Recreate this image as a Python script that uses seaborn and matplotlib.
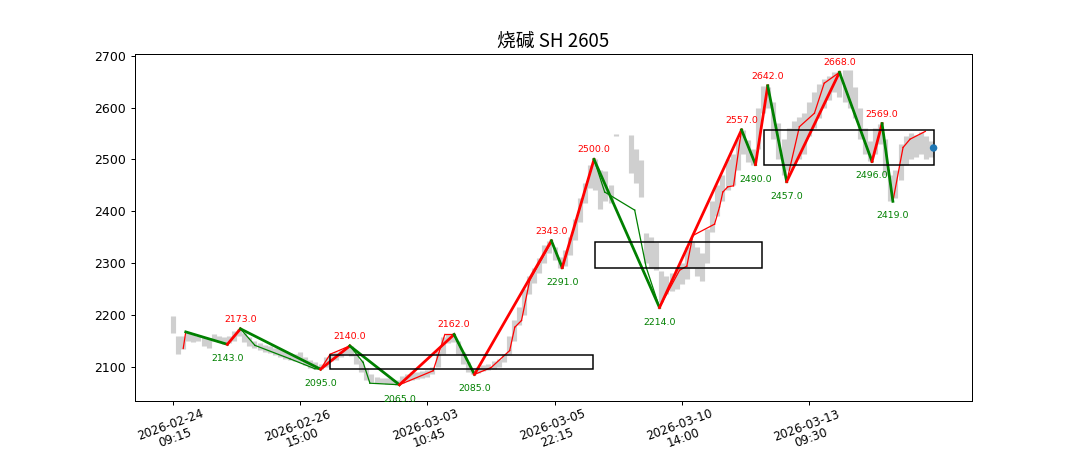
import numpy as np
import pandas as pd
import matplotlib
matplotlib.use('Agg')
import matplotlib.pyplot as plt
import seaborn as sns
from matplotlib.patches import Rectangle

title = '烧碱 SH 2605'

# price bars (every 4th bar): low / high
bar_idx = list(range(0, 600, 4))
bar_low = [
    2165, 2125, 2134, 2150, 2148, 2150, 2140, 2135, 2150, 2148,
    2143, 2145, 2150, 2160, 2148, 2140, 2135, 2132, 2128, 2126,
    2122, 2118, 2115, 2112, 2110, 2108, 2104, 2098, 2095, 2095,
    2100, 2110, 2112, 2118, 2125, 2120, 2105, 2090, 2075, 2070,
    2068, 2068, 2066, 2066, 2065, 2068, 2072, 2074, 2076, 2078,
    2080, 2086, 2100, 2125, 2145, 2148, 2125, 2105, 2090, 2085,
    2088, 2092, 2094, 2096, 2100, 2108, 2125, 2150, 2180, 2200,
    2240, 2262, 2280, 2300, 2320, 2305, 2291, 2295, 2315, 2345,
    2380, 2415, 2445, 2440, 2405, 2420, 2415, 2545, 2547, 2547,
    2473, 2455, 2427, 2300, 2290, 2286, 2225, 2240, 2245, 2250,
    2260, 2270, 2290, 2275, 2266, 2300, 2360, 2390, 2420, 2440,
    2450, 2480, 2510, 2495, 2490, 2520, 2590, 2600, 2540, 2500,
    2470, 2480, 2490, 2500, 2510, 2545, 2560, 2580, 2600, 2615,
    2630, 2620, 2610, 2600, 2580, 2540, 2510, 2496, 2510, 2530,
    2470, 2419, 2425, 2460, 2490, 2500, 2505, 2510, 2500, 2505,
]
bar_high = [
    2197, 2160, 2160, 2166, 2162, 2160, 2158, 2155, 2162, 2160,
    2158, 2160, 2168, 2173, 2165, 2158, 2150, 2146, 2142, 2140,
    2136, 2134, 2130, 2126, 2124, 2128, 2118, 2112, 2108, 2105,
    2118, 2125, 2128, 2132, 2138, 2140, 2125, 2112, 2098, 2085,
    2080, 2078, 2078, 2076, 2074, 2082, 2086, 2090, 2090, 2092,
    2094, 2100, 2130, 2158, 2162, 2162, 2150, 2128, 2108, 2098,
    2100, 2104, 2106, 2110, 2115, 2125, 2160, 2190, 2215, 2250,
    2275, 2290, 2310, 2335, 2343, 2330, 2312, 2325, 2350, 2385,
    2425, 2455, 2490, 2500, 2480, 2478, 2450, 2549, 2547, 2547,
    2547, 2520, 2499, 2357, 2350, 2340, 2285, 2275, 2280, 2290,
    2300, 2330, 2340, 2330, 2320, 2365, 2420, 2450, 2470, 2500,
    2510, 2540, 2557, 2537, 2520, 2600, 2642, 2640, 2610, 2570,
    2540, 2560, 2575, 2582, 2590, 2610, 2630, 2645, 2655, 2660,
    2668, 2668, 2673, 2673, 2640, 2600, 2560, 2535, 2560, 2569,
    2540, 2470, 2480, 2530, 2545, 2550, 2548, 2552, 2545, 2535,
]

# main zigzag pivots (thick)
pivot_idx = [10, 42.7, 53, 116, 139, 178, 221, 237, 297.5, 306, 331,
             382.5, 447, 458, 467.6, 482.5, 524, 549.6, 557.5, 566]
pivot_val = [2167, 2143, 2173, 2095, 2140, 2065, 2162, 2085, 2343, 2291, 2500,
             2214, 2557, 2490, 2642, 2457, 2668, 2496, 2569, 2419]

# sub-level strokes (thin)
sub_idx = [8, 10, 42.7, 53, 64.4, 92, 111.5, 116, 123.6, 139, 149.5, 154.8,
           178, 204.5, 213.7, 220.7, 237, 250, 264.7, 268.7, 274, 280.4, 296,
           297.5, 306, 331, 339.4, 363, 372, 382.5, 398.3, 404, 408.7, 425.8,
           429.7, 432.3, 436.2, 440.7, 447, 458, 467.6, 482.5, 492.5, 504.3,
           512, 524, 549.6, 557.5, 566, 574, 579.5, 591.5]
sub_val = [2135, 2167, 2143, 2173, 2141, 2115, 2096, 2095, 2124, 2140, 2108, 2068,
           2065, 2092, 2162, 2162, 2085, 2098, 2131, 2176, 2189, 2266, 2334,
           2343, 2291, 2500, 2437, 2402, 2292, 2214, 2286, 2294, 2353, 2375,
           2408, 2437, 2447, 2449, 2557, 2490, 2642, 2457, 2563, 2589,
           2647, 2668, 2496, 2569, 2419, 2523, 2539, 2554]

# pivot zones
box_start = [123.6, 331.5, 464.5]
box_end = [330, 463, 598.3]
box_low = [2095, 2291, 2490]
box_high = [2122, 2340, 2557]

last_idx = 598
last_close = 2522

tick_pos = [0, 100, 200, 300, 400, 500]
tick_labels = ['2026-02-24\n09:15', '2026-02-26\n15:00', '2026-03-03\n10:45',
               '2026-03-05\n22:15', '2026-03-10\n14:00', '2026-03-13\n09:30']


fig, ax = plt.subplots(figsize=(12, 5), dpi=90)

# price range bars
lc = ax.vlines(bar_idx, bar_low, bar_high, color='#cfcfcf', linewidth=4.1, zorder=1)
lc.set_capstyle('butt')


def draw_strokes(xs, ys, lw, z):
    for i in range(len(xs) - 1):
        c = 'red' if ys[i + 1] >= ys[i] else 'green'
        sns.lineplot(x=[xs[i], xs[i + 1]], y=[ys[i], ys[i + 1]], color=c,
                     linewidth=lw, ax=ax, zorder=z, sort=False, estimator=None)


draw_strokes(sub_idx, sub_val, 1.0, 2)
draw_strokes(pivot_idx, pivot_val, 2.2, 3)

# labels on pivots (skip the start point)
for i in range(1, len(pivot_idx)):
    v = pivot_val[i]
    if v > pivot_val[i - 1]:
        ax.annotate(f'{v:.1f}', (pivot_idx[i], v), xytext=(0, 4), textcoords='offset points',
                    ha='center', va='bottom', color='red', fontsize=7.5)
    else:
        ax.annotate(f'{v:.1f}', (pivot_idx[i], v), xytext=(0, -8), textcoords='offset points',
                    ha='center', va='top', color='green', fontsize=7.5)

for x0, x1, lo, hi in zip(box_start, box_end, box_low, box_high):
    ax.add_patch(Rectangle((x0, lo), x1 - x0, hi - lo, fill=False,
                           edgecolor='black', linewidth=1.2, zorder=4))

sns.scatterplot(x=[last_idx], y=[last_close], ax=ax, s=36, color='#1f77b4',
                edgecolor='none', zorder=5)

ax.set_xticks(tick_pos)
ax.set_xticklabels(tick_labels, rotation=20, fontsize=9.5, linespacing=1.0)
ax.tick_params(axis='x', pad=2)
ax.set_xlabel('')
ax.set_ylabel('')
ax.set_title(title, family=['Noto Sans CJK SC', 'DejaVu Sans'], fontsize=15)

fig.savefig('out.png', dpi=90)
plt.close(fig)
